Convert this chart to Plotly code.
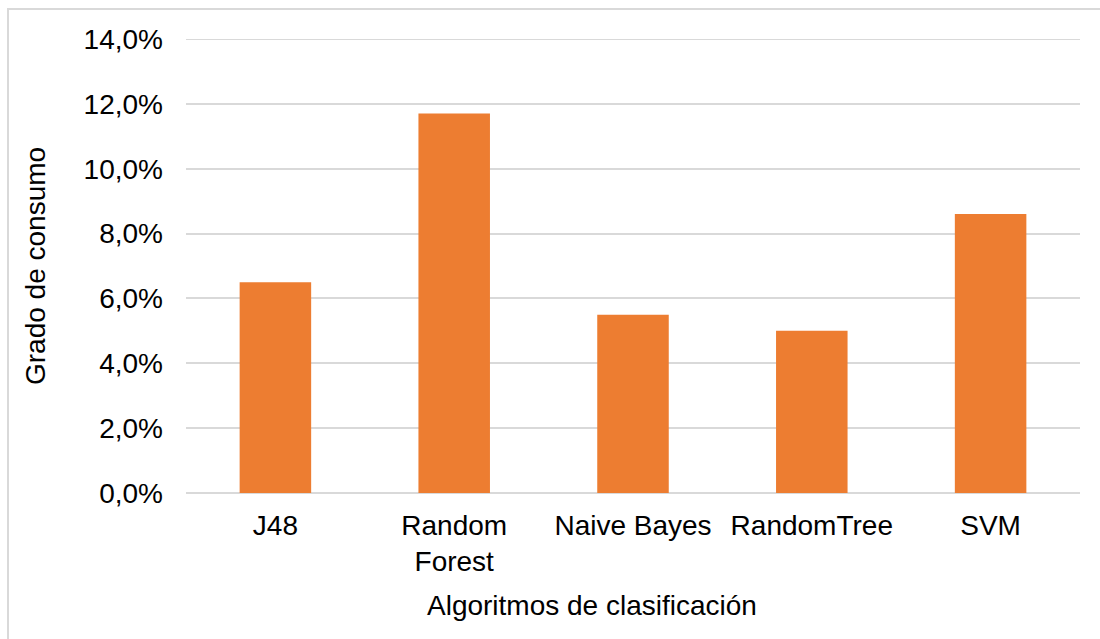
import plotly.graph_objects as go

# Consumption share per classification algorithm
algoritmos = ["J48", "Random<br>Forest", "Naive Bayes", "RandomTree", "SVM"]
consumo = [0.065, 0.117, 0.055, 0.050, 0.086]

y_ticks = [0.0, 0.02, 0.04, 0.06, 0.08, 0.10, 0.12, 0.14]

W, H = 1100, 639
# plot area in pixels
PL, PR, PT, PB = 186, 1080, 39, 493
pw, ph = PR - PL, PB - PT


def px_x(x):
    return (x - PL) / pw


def px_y(y):
    return (PB - y) / ph


FONT = "Liberation Sans, Arial, sans-serif"
FS = 28
GRID = "#d9d9d9"

fig = go.Figure(
    go.Bar(
        x=algoritmos,
        y=consumo,
        marker=dict(color="#ED7D31", line=dict(width=0)),
        width=0.4,
    )
)

fig.update_layout(
    width=W,
    height=H,
    margin=dict(l=PL, r=W - PR, t=PT, b=H - PB),
    paper_bgcolor="white",
    plot_bgcolor="white",
    separators=",.",
    showlegend=False,
    font=dict(family=FONT, size=FS, color="#000000"),
)

fig.update_xaxes(
    showgrid=False,
    showline=False,
    zeroline=False,
    ticks="",
    ticklabelstandoff=13,
    tickfont=dict(family=FONT, size=FS, color="#000000"),
)

fig.update_yaxes(
    range=[0, 0.14],
    tickvals=y_ticks,
    tickformat=".1%",
    showgrid=True,
    gridcolor=GRID,
    gridwidth=2,
    zeroline=True,
    zerolinecolor=GRID,
    zerolinewidth=2,
    showline=False,
    ticks="",
    ticklabelstandoff=22,
    tickfont=dict(family=FONT, size=FS, color="#000000"),
)

# gridline at the top of the value axis (plotly omits it at the range edge)
fig.add_shape(
    type="line",
    xref="paper", yref="y",
    x0=0, x1=1, y0=y_ticks[-1], y1=y_ticks[-1],
    line=dict(color=GRID, width=2),
    layer="below",
)

# axis titles
fig.add_annotation(
    text="Algoritmos de clasificación",
    xref="paper", yref="paper",
    x=px_x(592), y=px_y(605),
    xanchor="center", yanchor="middle",
    showarrow=False,
    font=dict(family=FONT, size=FS, color="#000000"),
)
fig.add_annotation(
    text="Grado de consumo",
    xref="paper", yref="paper",
    x=px_x(35), y=px_y(266),
    xanchor="center", yanchor="middle",
    textangle=-90,
    showarrow=False,
    font=dict(family=FONT, size=FS, color="#000000"),
)

# chart-area border
fig.add_shape(
    type="rect",
    xref="paper", yref="paper",
    x0=px_x(8), x1=px_x(1120),
    y0=px_y(660), y1=px_y(9),
    line=dict(color=GRID, width=2),
    fillcolor="rgba(0,0,0,0)",
    layer="below",
)

fig.write_html("out.html")
